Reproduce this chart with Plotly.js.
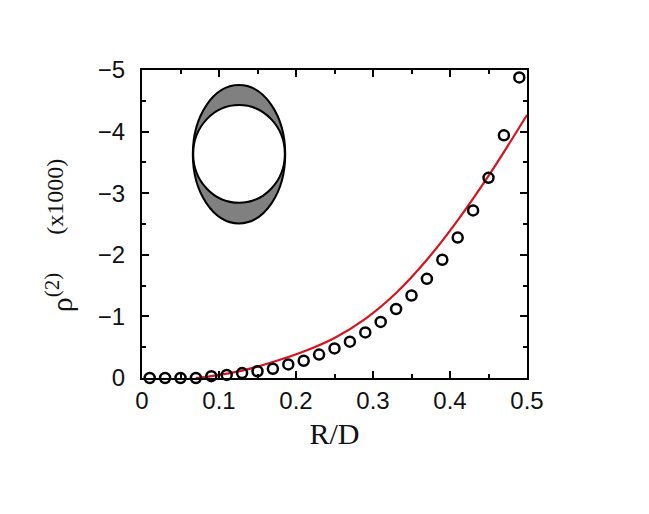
<!DOCTYPE html>
<html>
<head>
<meta charset="utf-8">
<script src="https://cdn.plot.ly/plotly-3.0.1.min.js"></script>
<style>
  html, body { margin: 0; padding: 0; background: #ffffff; }
  #chart { width: 649px; height: 514px; }
</style>
</head>
<body>
<div id="chart"></div>
<script>
// simulation points (open symbols)
const simX = [0.01, 0.03, 0.05, 0.07, 0.09, 0.11, 0.13, 0.15, 0.17, 0.19, 0.21, 0.23,
  0.25, 0.27, 0.29, 0.31, 0.33, 0.35, 0.37, 0.39, 0.41, 0.43, 0.45, 0.47, 0.49];
const simY = [0, 0, 0, 0, -0.03, -0.05, -0.08, -0.11, -0.15, -0.22, -0.28, -0.38,
  -0.48, -0.59, -0.74, -0.91, -1.12, -1.34, -1.61, -1.92, -2.28, -2.72, -3.25, -3.94, -4.88];

// theory curve (red)
const fitX = [0.07, 0.09, 0.13, 0.17, 0.21, 0.25, 0.29, 0.33, 0.37, 0.41, 0.45, 0.5];
const fitY = [0, -0.03, -0.12, -0.26, -0.43, -0.65, -0.96, -1.38, -1.92, -2.56, -3.28, -4.27];

const xTicks = [0, 0.1, 0.2, 0.3, 0.4, 0.5];
const xTickText = ["0", "0.1", "0.2", "0.3", "0.4", "0.5"];
const yTicks = [0, -1, -2, -3, -4, -5];
const yTickText = ["0", "\u22121", "\u22122", "\u22123", "\u22124", "\u22125"];

const points = {
  x: simX,
  y: simY,
  mode: "markers",
  marker: {
    symbol: "circle-open",
    size: 10,
    color: "black",
    line: { width: 2.5, color: "black" },
  },
  cliponaxis: false,
};

const curve = {
  x: fitX,
  y: fitY,
  mode: "lines",
  line: { shape: "spline", color: "rgb(215, 20, 30)", width: 2.2 },
};

const axisCommon = {
  showgrid: false,
  zeroline: false,
  showline: true,
  linecolor: "black",
  linewidth: 2,
  mirror: "allticks",
  ticks: "inside",
  ticklen: 7,
  tickwidth: 1.5,
  tickcolor: "black",
  tickfont: { family: "Liberation Sans, Arial, sans-serif", size: 24, color: "#111" },
};

const layout = {
  width: 649,
  height: 514,
  margin: { l: 142, r: 122, t: 70, b: 136 },
  paper_bgcolor: "#ffffff",
  plot_bgcolor: "#ffffff",
  showlegend: false,
  xaxis: Object.assign({}, axisCommon, {
    range: [0, 0.5],
    tickvals: xTicks,
    ticktext: xTickText,
    minor: { dtick: 0.05, ticks: "inside", ticklen: 4, tickcolor: "black" },
    title: {
      text: "R/D",
      font: { family: "Liberation Serif, Times New Roman, serif", size: 30, color: "#111" },
      standoff: 10,
    },
  }),
  yaxis: Object.assign({}, axisCommon, {
    range: [0, -5],
    tickvals: yTicks,
    ticktext: yTickText,
    ticklabelstandoff: 10,
    minor: { dtick: 0.5, ticks: "inside", ticklen: 4, tickcolor: "black" },
  }),
  annotations: [
    {
      xref: "paper", yref: "paper",
      x: -0.215, y: 0.276,
      xanchor: "center", yanchor: "middle",
      text: "\u03c1<sup>(2)</sup>",
      showarrow: false,
      textangle: -90,
      font: { family: "Liberation Serif, Times New Roman, serif", size: 30, color: "#111" },
    },
    {
      xref: "paper", yref: "paper",
      x: -0.225, y: 0.59,
      xanchor: "center", yanchor: "middle",
      text: "(x1000)",
      showarrow: false,
      textangle: -90,
      font: { family: "Liberation Serif, Times New Roman, serif", size: 24, color: "#111" },
    },
  ],
  shapes: [
    {
      type: "circle", xref: "paper", yref: "paper",
      x0: 0.132, x1: 0.372, y0: 0.502, y1: 0.951,
      fillcolor: "#808080",
      line: { color: "black", width: 2 },
    },
    {
      type: "circle", xref: "paper", yref: "paper",
      x0: 0.133, x1: 0.371, y0: 0.569, y1: 0.886,
      fillcolor: "#ffffff",
      line: { color: "black", width: 2 },
    },
  ],
};

Plotly.newPlot("chart", [curve, points], layout, { displayModeBar: false });
</script>
</body>
</html>
